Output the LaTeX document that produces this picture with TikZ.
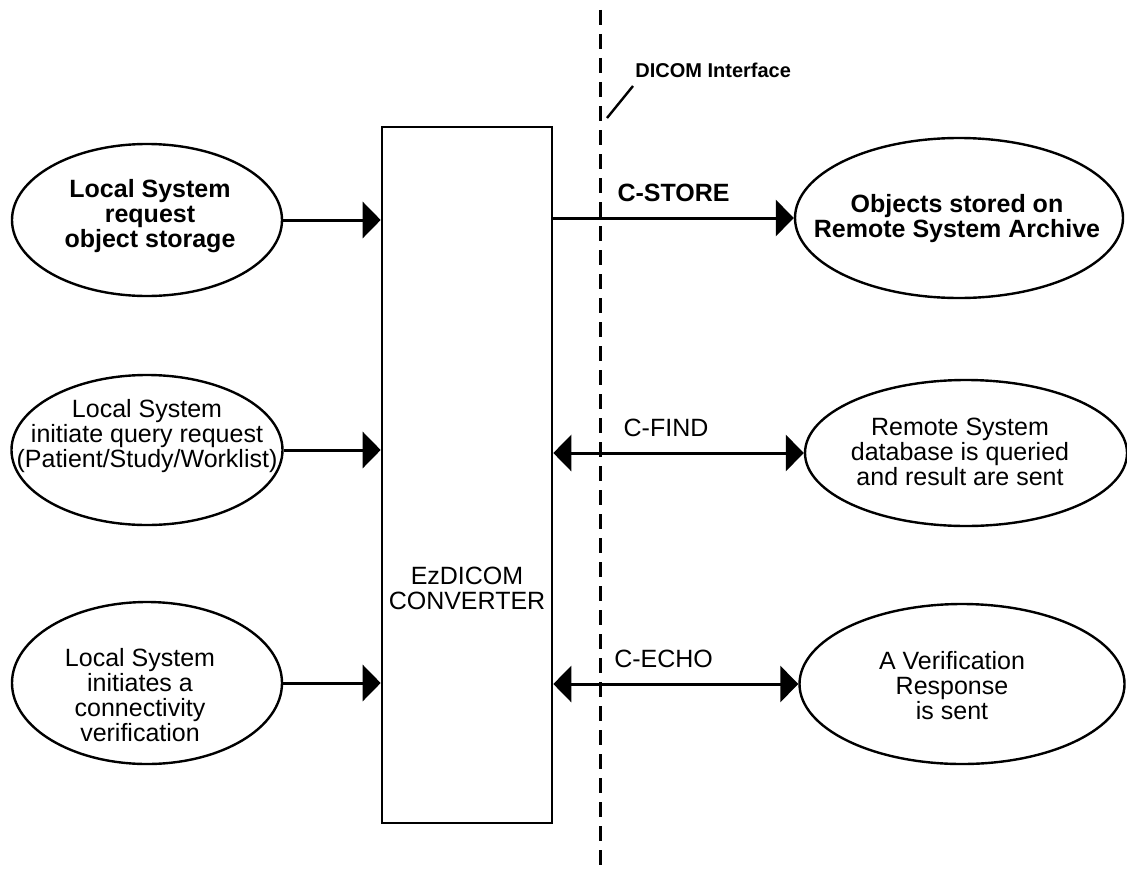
\documentclass[tikz,border=0pt]{standalone}
\usepackage{fontspec}
\setmainfont{Liberation Sans}
\usetikzlibrary{shapes.geometric,arrows.meta}

\begin{document}
\begin{tikzpicture}[x=0.5pt,y=-0.5pt]

    % Define some common styles
    \tikzset{
        system/.style={draw, ellipse, line width=1.2pt, inner sep=0pt},
        caption/.style={align=center, inner sep=0pt, font=\fontsize{12.5}{12.5}\selectfont},
        boldcaption/.style={caption, font=\bfseries\fontsize{12.5}{12.5}\selectfont},
        request/.style={line width=1.5pt, -{Triangle[length=9pt,width=18pt]}},
        exchange/.style={line width=1.5pt, {Triangle[length=9pt,width=18pt]}-{Triangle[length=9pt,width=18pt]}},
        iface/.style={line width=1.5pt, dash pattern=on 7.5pt off 4.5pt}
    }

    \useasboundingbox (0,0) rectangle (1127,872);

    % DICOM interface boundary
    \draw[iface] (600,10) -- (600,872);
    \node[anchor=base west, inner sep=0pt, font=\bfseries\fontsize{10}{10}\selectfont] (ifacelabel) at (635,77) {DICOM Interface};
    \coordinate (slashlow) at (607,118);
    \coordinate (slashtop) at (633,86);
    \draw[line width=1.2pt] (slashlow) -- (slashtop);

    % Converter box
    \node[draw, line width=1.3pt, minimum width=85pt, minimum height=348pt, inner sep=0pt] (conv) at (467,475) {};
    \node[caption] (convtext) at (467,588) {EzDICOM\\CONVERTER};

    % Local system side
    \node[system, minimum width=135pt, minimum height=76pt] (loc1) at (147,220) {};
    \node[boldcaption] (loc1text) at (150,216) {Local System\\request\\object storage};
    \node[system, minimum width=135.5pt, minimum height=75pt] (loc2) at (147,450) {};
    \node[caption] (loc2text) at (147,436) {Local System\\initiate query request\\(Patient/Study/Worklist)};
    \node[system, minimum width=135pt, minimum height=81pt] (loc3) at (147,683) {};
    \node[caption] (loc3text) at (140,695) {Local System\\initiates a\\connectivity\\verification};

    % Remote system side
    \node[system, minimum width=164pt, minimum height=80pt] (rem1) at (959,218) {};
    \node[boldcaption] (rem1text) at (957,219) {Objects stored on\\Remote System Archive};
    \node[system, minimum width=161pt, minimum height=73pt] (rem2) at (966,453) {};
    \node[caption] (rem2text) at (960,452) {Remote System\\database is queried\\and result are sent};
    \node[system, minimum width=162.5pt, minimum height=80pt] (rem3) at (962,684) {};
    \node[caption] (rem3text) at (952,686) {A Verification\\Response\\is sent};

    % Requests into the converter
    \draw[request] (loc1.east) -- (loc1.east -| conv.west);
    \draw[request] (loc2.east) -- (loc2.east -| conv.west);
    \draw[request] (loc3.east) -- (loc3.east -| conv.west);

    % DICOM services
    \draw[request] (conv.east |- rem1.west) -- (rem1.west)
        node[midway, above=4pt, font=\bfseries\fontsize{12.5}{12.5}\selectfont] {C-STORE};
    \draw[exchange] (conv.east |- rem2.west) -- (rem2.west)
        node[pos=0.45, above=4pt, font=\fontsize{12.5}{12.5}\selectfont] {C-FIND};
    \draw[exchange] (conv.east |- rem3.west) -- (rem3.west)
        node[pos=0.45, above=4pt, font=\fontsize{12.5}{12.5}\selectfont] {C-ECHO};

\end{tikzpicture}
\end{document}
